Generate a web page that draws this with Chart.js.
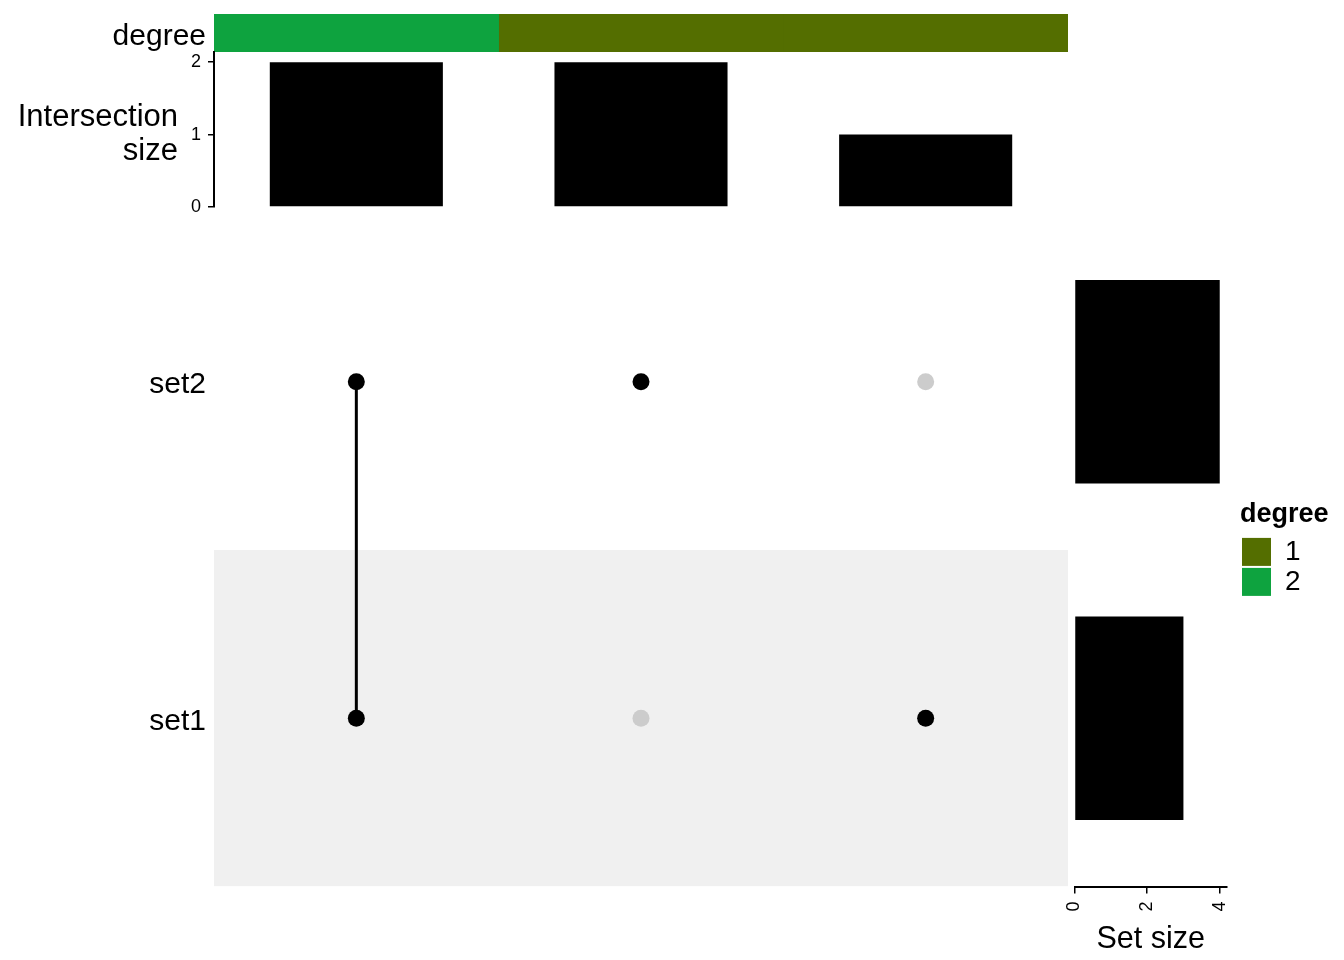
<!DOCTYPE html>
<html>
<head>
<meta charset="utf-8">
<script src="https://cdn.jsdelivr.net/npm/chart.js@4.4.1/dist/chart.umd.min.js"></script>
<style>
  html, body { margin: 0; padding: 0; background: #ffffff; }
  #wrap { position: relative; width: 1344px; height: 960px; overflow: hidden; background: #fff; }
  canvas { position: absolute; }
</style>
</head>
<body>
<div id="wrap">
  <canvas id="cDegree" style="left:0px;top:0px;width:1080px;height:60px" width="1080" height="60"></canvas>
  <canvas id="cInter" style="left:0px;top:40px;width:1080px;height:180px" width="1080" height="180"></canvas>
  <canvas id="cMatrix" style="left:0px;top:200px;width:1080px;height:700px" width="1080" height="700"></canvas>
  <canvas id="cSets" style="left:1040px;top:200px;width:304px;height:760px" width="304" height="760"></canvas>
  <canvas id="cLegend" style="left:1240px;top:490px;width:104px;height:400px" width="104" height="400"></canvas>
</div>
<script>
// ---------------- data ----------------
const intersections = ['set1 & set2', 'set2', 'set1'];
const intersectionSizes = [2, 2, 1];
const intersectionDegrees = [2, 1, 1];
const intersectionTicks = [0, 1, 2];
const setNames = ['set2', 'set1'];          // top to bottom
const setSizes = [4, 3];
const setSizeTicks = [0, 2, 4];
const setRowValues = [1.5, 0.5];            // row positions for set2, set1
// membership[i] = sets participating in intersection i
const membership = [['set1', 'set2'], ['set2'], ['set1']];
const degreeLevels = ['1', '2'];
const degreeColors = ['#546E00', '#0EA33F'];

// ---------------- helpers ----------------
const FONT = "'Liberation Sans', Arial, Helvetica, sans-serif";
Chart.defaults.font.family = FONT;
Chart.defaults.color = '#000000';
Chart.defaults.animation = false;
Chart.defaults.responsive = false;
Chart.defaults.maintainAspectRatio = false;
Chart.defaults.plugins.legend.display = false;
Chart.defaults.plugins.tooltip.enabled = false;

function degreeColor(d) { return degreeColors[degreeLevels.indexOf(String(d))]; }
function rowOf(name) { return setRowValues[setNames.indexOf(name)]; }
function fixWidth(w) {
  return (s) => { s.width = w; s.paddingTop = 0; s.paddingBottom = 0; };
}

// ---------------- degree strip ----------------
new Chart(document.getElementById('cDegree'), {
  type: 'bar',
  data: {
    labels: ['degree'],
    datasets: intersections.map((name, i) => ({
      label: name,
      data: [1],
      backgroundColor: degreeColor(intersectionDegrees[i]),
      borderWidth: 0,
      barPercentage: 1,
      categoryPercentage: 1
    }))
  },
  options: {
    indexAxis: 'y',
    layout: { padding: { top: 14, bottom: 8, right: 12, left: 0 } },
    scales: {
      x: { stacked: true, min: 0, max: intersections.length, display: false },
      y: {
        stacked: true,
        grid: { display: false, drawTicks: false },
        border: { display: false },
        ticks: { font: { size: 30 }, padding: 8, color: '#000', labelOffset: 4 },
        afterFit: fixWidth(214)
      }
    }
  }
});

// ---------------- intersection size ----------------
new Chart(document.getElementById('cInter'), {
  type: 'bar',
  data: {
    labels: intersections,
    datasets: [{
      data: intersectionSizes,
      backgroundColor: '#000000',
      borderWidth: 0,
      barPercentage: 0.608,
      categoryPercentage: 1,
      yAxisID: 'y'
    }]
  },
  options: {
    layout: { padding: { top: 12, bottom: 13, right: 12, left: 0 } },
    scales: {
      x: { display: false },
      y: {
        position: 'left',
        weight: 0,
        min: 0,
        max: 2.14,
        afterBuildTicks: (s) => { s.ticks = intersectionTicks.map(v => ({ value: v })); },
        grid: { display: true, drawOnChartArea: false, drawTicks: true, tickLength: 6, color: '#000', lineWidth: 1.5 },
        border: { display: true, color: '#000', width: 2 },
        ticks: { font: { size: 18 }, padding: 7, color: '#000' },
        afterFit: fixWidth(30)
      },
      yTitle: {
        type: 'category',
        position: 'left',
        weight: 1,
        offset: true,
        labels: [['Intersection', 'size']],
        grid: { display: false, drawTicks: false },
        border: { display: false },
        ticks: { font: { size: 31, lineHeight: 1.1 }, padding: 6, color: '#000', labelOffset: 5 },
        afterFit: fixWidth(184)
      }
    }
  }
});

// ---------------- matrix ----------------
const activePts = [], inactivePts = [], linkDatasets = [];
intersections.forEach((name, i) => {
  const x = i + 0.5;
  setNames.forEach((s) => {
    const p = { x: x, y: rowOf(s) };
    if (membership[i].includes(s)) activePts.push(p); else inactivePts.push(p);
  });
  if (membership[i].length > 1) {
    const ys = membership[i].map(rowOf);
    linkDatasets.push({
      type: 'line',
      data: [{ x: x, y: Math.min(...ys) }, { x: x, y: Math.max(...ys) }],
      borderColor: '#000', borderWidth: 3, pointRadius: 0, fill: false, order: 2
    });
  }
});
// shaded band for alternate rows (set1 row: 0..1)
const bandDataset = {
  type: 'line',
  data: [{ x: 0, y: 1 }, { x: intersections.length, y: 1 }],
  borderWidth: 0, borderColor: 'rgba(0,0,0,0)', pointRadius: 0,
  backgroundColor: '#F0F0F0', fill: 'origin', order: 5
};

new Chart(document.getElementById('cMatrix'), {
  type: 'scatter',
  data: {
    datasets: [
      bandDataset,
      ...linkDatasets,
      { type: 'scatter', data: inactivePts, backgroundColor: '#CCCCCC', pointRadius: 8.5, borderWidth: 0, order: 3 },
      { type: 'scatter', data: activePts, backgroundColor: '#000000', pointRadius: 8.5, borderWidth: 0, order: 1 }
    ]
  },
  options: {
    layout: { padding: { top: 13.5, bottom: 13.5, right: 12, left: 0 } },
    scales: {
      x: { type: 'linear', min: 0, max: intersections.length, display: false },
      y: {
        type: 'linear', min: 0, max: setNames.length,
        afterBuildTicks: (s) => { s.ticks = setRowValues.map(v => ({ value: v })); },
        grid: { display: false, drawTicks: false },
        border: { display: false },
        ticks: {
          font: { size: 30 }, padding: 8, color: '#000', labelOffset: 3,
          callback: (v) => setNames[setRowValues.indexOf(v)]
        },
        afterFit: fixWidth(214)
      }
    }
  }
});

// ---------------- set size ----------------
new Chart(document.getElementById('cSets'), {
  type: 'bar',
  data: {
    labels: setNames,
    datasets: [{
      data: setSizes,
      backgroundColor: '#000000',
      borderWidth: 0,
      barPercentage: 0.605,
      categoryPercentage: 1
    }]
  },
  options: {
    indexAxis: 'y',
    layout: { padding: { top: 13.5, bottom: 0, left: 34.5, right: 117 } },
    scales: {
      y: { display: false },
      x: {
        min: 0, max: 4.2,
        afterBuildTicks: (s) => { s.ticks = setSizeTicks.map(v => ({ value: v })); },
        grid: { display: true, drawOnChartArea: false, drawTicks: true, tickLength: 7, color: '#000', lineWidth: 1.5 },
        border: { display: true, color: '#000', width: 2 },
        ticks: { font: { size: 18 }, padding: 8, color: '#000', minRotation: 90, maxRotation: 90 },
        title: { display: true, text: 'Set size', font: { size: 30.5 }, color: '#000', padding: { top: 0, bottom: 1.7 } },
        afterFit: (s) => { s.height = 73.5; s.paddingLeft = 0; s.paddingRight = 0; }
      }
    }
  }
});

// ---------------- legend ----------------
new Chart(document.getElementById('cLegend'), {
  type: 'bar',
  data: {
    labels: [],
    datasets: degreeLevels.map((lv, i) => ({ label: lv, data: [], backgroundColor: degreeColors[i], borderWidth: 0 }))
  },
  options: {
    scales: { x: { display: false }, y: { display: false } },
    plugins: {
      legend: {
        display: true,
        position: 'top',
        align: 'start',
        title: { display: true, position: 'start', text: 'degree', font: { size: 27, weight: 'bold' }, color: '#000', padding: { top: 11.5, bottom: 2 } },
        labels: { boxWidth: 29, boxHeight: 28, padding: 2, font: { size: 28 }, color: '#000' }
      }
    }
  }
});
</script>
</body>
</html>
